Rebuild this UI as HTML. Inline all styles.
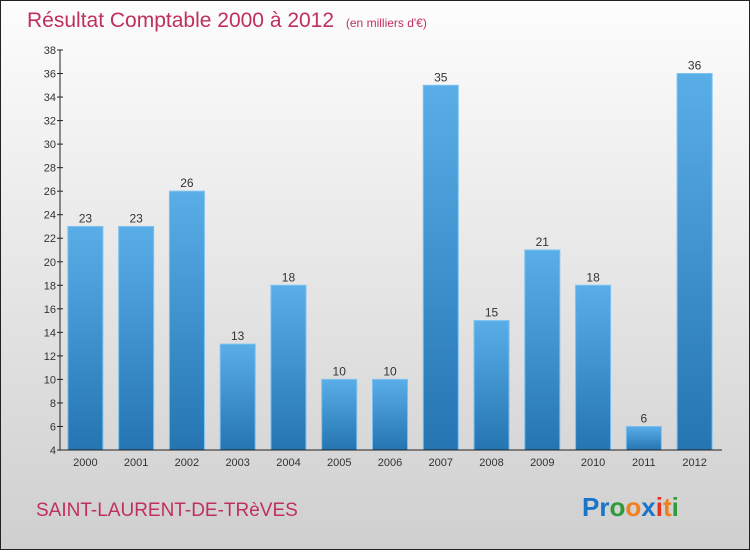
<!DOCTYPE html>
<html><head><meta charset="utf-8"><style>
body{margin:0;}
svg text{font-family:"Liberation Sans",sans-serif;}
</style></head><body>
<svg id="c" width="750" height="550" xmlns="http://www.w3.org/2000/svg">
<defs>
<linearGradient id="bg" x1="0" y1="0" x2="0" y2="1"><stop offset="0" stop-color="#fdfdfd"/><stop offset="1" stop-color="#cfcfcf"/></linearGradient>
<linearGradient id="bar" x1="0" y1="0" x2="0" y2="1"><stop offset="0" stop-color="#5aaee8"/><stop offset="1" stop-color="#2475b2"/></linearGradient>
</defs>
<rect x="0.5" y="0.5" width="749" height="549" fill="url(#bg)" stroke="#222"/>
<text x="27" y="27" font-size="21" fill="#c0305c">Résultat Comptable 2000 à 2012 <tspan font-size="12" dx="6">(en milliers d'€)</tspan></text>
<g id="plot"></g>
<text x="36" y="516" font-size="19" fill="#c0305c">SAINT-LAURENT-DE-TRèVES</text>
<text x="582" y="516" font-size="26" font-weight="bold"><tspan fill="#1a75c9">Pr</tspan><tspan fill="#2f9a3a">o</tspan><tspan fill="#f08020">o</tspan><tspan fill="#1a75c9">x</tspan><tspan fill="#e83020">i</tspan><tspan fill="#f08020">t</tspan><tspan fill="#2f9a3a">i</tspan></text>
</svg>
<script>
const categories=["2000","2001","2002","2003","2004","2005","2006","2007","2008","2009","2010","2011","2012"];
const values=[23,23,26,13,18,10,10,35,15,21,18,6,36];
const yTicks=[4,6,8,10,12,14,16,18,20,22,24,26,28,30,32,34,36,38];
const NS="http://www.w3.org/2000/svg";
const g=document.getElementById("plot");
const x0=60,x1=720,yb=450,yt=50,ymin=4,ymax=38;
const y=v=>yb-(v-ymin)/(ymax-ymin)*(yb-yt);
const bw=(x1-x0)/categories.length;
function mk(t,a){const e=document.createElementNS(NS,t);for(const k in a)e.setAttribute(k,a[k]);g.appendChild(e);return e;}
yTicks.forEach(v=>{
 const l=mk("line",{x1:x0-3,x2:x0+3,y1:y(v),y2:y(v),stroke:"#222"});
 
 
 const t=mk("text",{x:x0-4,y:y(v)+4,"font-size":"11","text-anchor":"end",fill:"#333"});
 t.textContent=v;
 
 
});
categories.forEach((c,i)=>{
 const cx=x0+bw*(i+0.5);
 const r=mk("rect",{x:cx-17.5,y:y(values[i]),width:35,height:yb-y(values[i]),fill:"url(#bar)",stroke:"#7cc0ef","stroke-width":"1"});
 
 
 const v=mk("text",{x:cx,y:y(values[i])-4,"font-size":"12","text-anchor":"middle",fill:"#333"});
 v.textContent=values[i];
 
 
 const t=mk("text",{x:cx,y:yb+16,"font-size":"11","text-anchor":"middle",fill:"#333"});
 t.textContent=c;
 
 
});
const ya=mk("line",{x1:x0,x2:x0,y1:yt,y2:yb,stroke:"#222"});


const xa=mk("line",{x1:x0,x2:x1+2,y1:yb,y2:yb,stroke:"#222"});


</script>
</body></html>
